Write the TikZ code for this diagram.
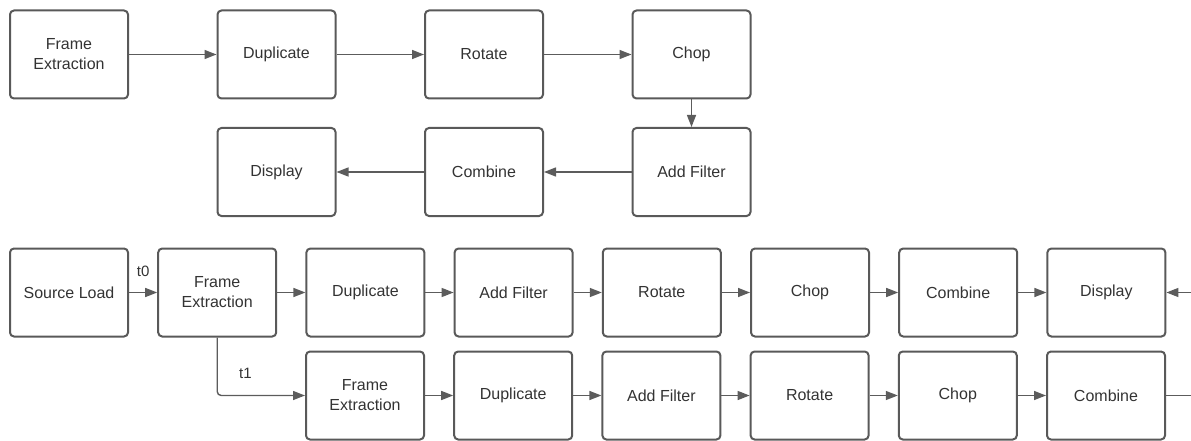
\documentclass[tikz,border=0pt]{standalone}
\usepackage{fontspec}
\setmainfont{Liberation Sans}
\usepackage{tikz}
\usetikzlibrary{arrows.meta,positioning}
\definecolor{boxline}{RGB}{89,89,89}
\definecolor{arrowline}{RGB}{92,92,92}
\definecolor{labeltext}{RGB}{51,51,51}

\begin{document}
\begin{tikzpicture}[x=1pt,y=1pt,->,>={Triangle[length=12pt,width=9pt]},
  line width=1.4pt,arrowline,
  main node/.style={rectangle,rounded corners=4pt,draw=boxline,line width=2pt,
    minimum width=118pt,minimum height=88pt,align=center,text=labeltext,
    font=\fontsize{16}{20}\selectfont}]
  \useasboundingbox (0,0) rectangle (1191,440);

  % upper flow
  \begin{scope}[node distance=207.5pt]
  \node[main node] (fe1) at (69,385.5) {Frame\\Extraction};
  \node[main node] (dup1) [right of=fe1] {Duplicate};
  \node[main node] (rot1) [right of=dup1] {Rotate};
  \node[main node] (chop1) [right of=rot1] {Chop};
  \node[main node] (add1) [below of=chop1,node distance=117.5pt] {Add Filter};
  \node[main node] (comb1) [left of=add1] {Combine};
  \node[main node] (disp1) [left of=comb1] {Display};
  \end{scope}
\path
	(fe1) edge (dup1)
	(dup1) edge (rot1)
	(rot1) edge (chop1)
	(chop1) edge (add1)
	(add1) edge (comb1)
	(comb1) edge (disp1);

  % lower flow, two frames
  \begin{scope}[node distance=148.2pt]
  \node[main node] (src) at (69,147.5) {Source Load};
  \node[main node] (fe2) [right of=src] {Frame\\Extraction};
  \node[main node] (dup2) [right of=fe2] {Duplicate};
  \node[main node] (add2) [right of=dup2] {Add Filter};
  \node[main node] (rot2) [right of=add2] {Rotate};
  \node[main node] (chop2) [right of=rot2] {Chop};
  \node[main node] (comb2) [right of=chop2] {Combine};
  \node[main node] (disp2) [right of=comb2] {Display};
  \node[main node] (fe3) at (365,44.5) {Frame\\Extraction};
  \node[main node] (dup3) [right of=fe3] {Duplicate};
  \node[main node] (add3) [right of=dup3] {Add Filter};
  \node[main node] (rot3) [right of=add3] {Rotate};
  \node[main node] (chop3) [right of=rot3] {Chop};
  \node[main node] (comb3) [right of=chop3] {Combine};
  \end{scope}
  \coordinate (feed) at (1191,147.5);
  \coordinate (out) at (1191,44.5);
\path[every node/.style={text=labeltext,font=\fontsize{15}{18}\selectfont}]
	(src) edge node[above=12pt] {t0} (fe2)
	(fe2) edge (dup2)
	(dup2) edge (add2)
	(add2) edge (rot2)
	(rot2) edge (chop2)
	(chop2) edge (comb2)
	(comb2) edge (disp2)
	(feed) edge (disp2)
	(fe3) edge (dup3)
	(dup3) edge (add3)
	(add3) edge (rot3)
	(rot3) edge (chop3)
	(chop3) edge (comb3)
	(comb3) edge[-] (out);
  \draw[rounded corners=4pt] (fe2.south) |- node[above right={13pt and 18pt},text=labeltext,
    font=\fontsize{15}{18}\selectfont] {t1} (fe3.west);
\end{tikzpicture}
\end{document}
